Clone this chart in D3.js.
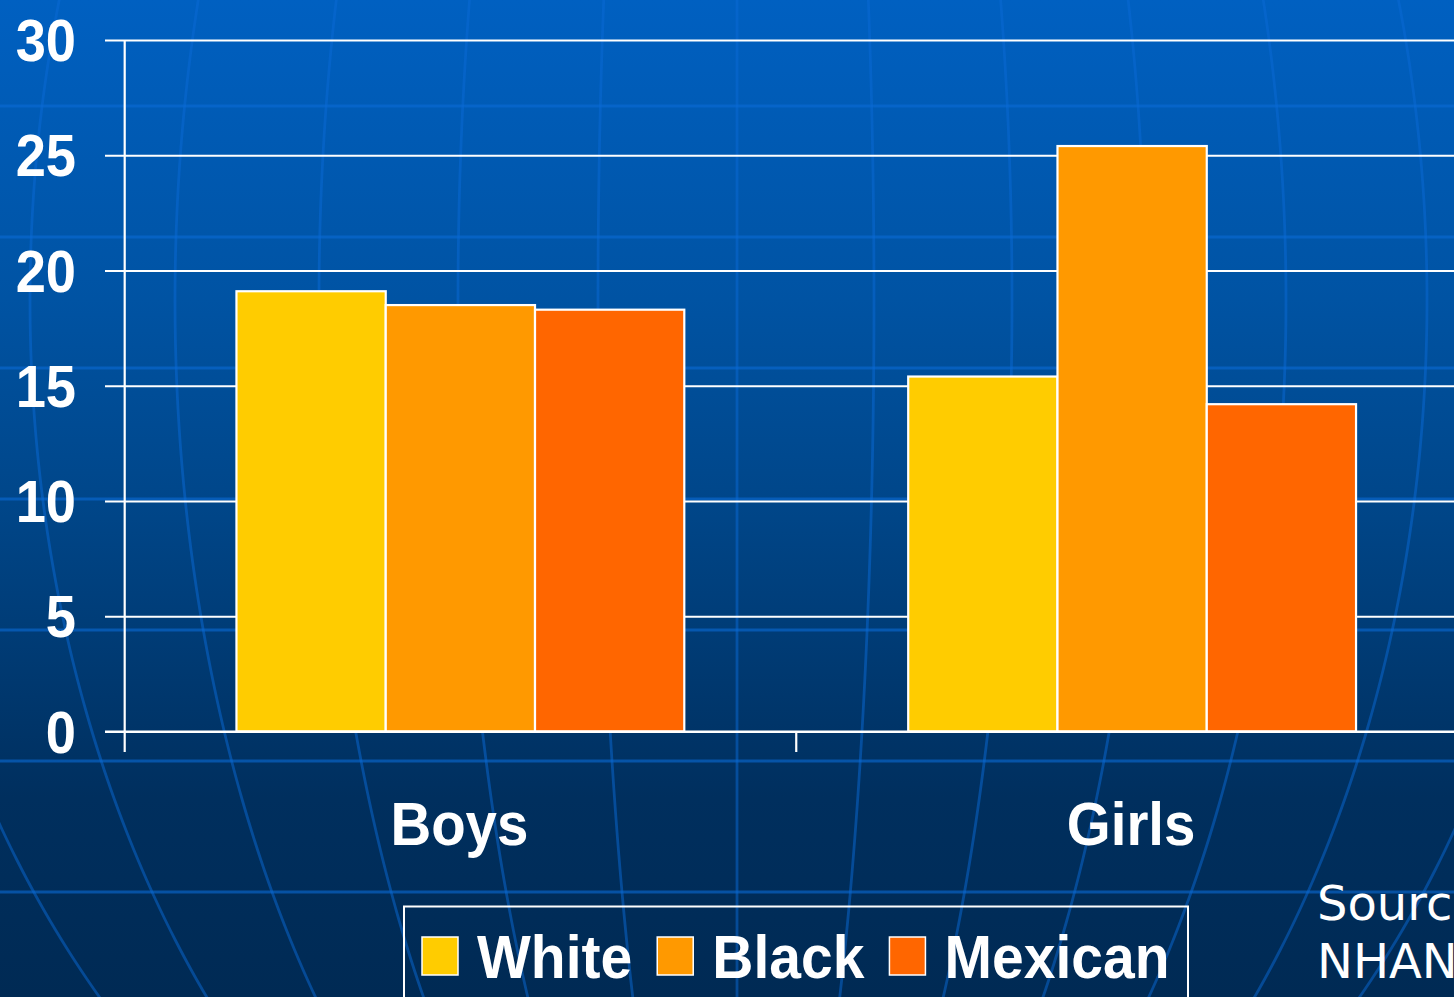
<!DOCTYPE html>
<html><head><meta charset="utf-8">
<script src="https://cdn.jsdelivr.net/npm/d3@7"></script>
<style>html,body{margin:0;padding:0;background:#002a55;overflow:hidden}</style>
</head><body><svg id="chart" width="1454" height="997"></svg>
<script>
// ---- data ----
const categories = ["Boys", "Girls"];
const seriesNames = ["White", "Black", "Mexican"];
const whiteValues = [19.1, 15.4];
const blackValues = [18.5, 25.4];
const mexicanValues = [18.3, 14.2];
const yTickValues = [0, 5, 10, 15, 20, 25, 30];
const seriesColors = ["#FFCC00", "#FF9900", "#FF6600"];
const sourceLines = ["Source:", "NHANES 1999\u20132002"];

// ---- decorative globe background ----
const latitudeYs = [106, 237, 368, 499, 630, 761, 892];
const meridianOffsets = [-990, -850, -707, -562, -418, -279, -139, 0, 137, 275, 408, 549, 690, 830];

const W = 1454, H = 997;
const svg = d3.select("#chart");
const defs = svg.append("defs");
const grad = defs.append("linearGradient").attr("id", "bg").attr("x1", 0).attr("y1", 0).attr("x2", 0).attr("y2", 1);
[[0, "#0060c1"], [0.3, "#0053a3"], [0.52, "#004587"], [0.8, "#002f5e"], [1, "#002a54"]]
  .forEach(([o, c]) => grad.append("stop").attr("offset", o).attr("stop-color", c));
svg.append("rect").attr("width", W).attr("height", H).attr("fill", "url(#bg)");

const bgG = svg.append("g");
bgG.selectAll("line.lat").data(latitudeYs).join("line")
  .attr("x1", 0).attr("x2", W).attr("y1", d => d).attr("y2", d => d)
  .attr("stroke", "#0a6ad6").attr("stroke-opacity", 0.6).attr("stroke-width", 3);
const gcx = 737, gcy = 300, gR = 1054;
const ys = d3.range(-60, 1060, 10);
bgG.selectAll("path.mer").data(meridianOffsets).join("path")
  .attr("fill", "none").attr("stroke", "#0a6ad6").attr("stroke-opacity", 0.5).attr("stroke-width", 2.8)
  .attr("d", off => d3.line()(ys.map(y => [gcx + off * Math.sqrt(1 - Math.pow((y - gcy) / gR, 2)), y])));

// ---- scales ----
const x0 = d3.scaleBand().domain(categories).range([124.5, 1468]).paddingInner(0).paddingOuter(0);
const x1 = d3.scaleBand().domain(seriesNames).range([0, x0.bandwidth()]).paddingInner(0).paddingOuter(0.75);
const y = d3.scaleLinear().domain([0, 30]).range([731.5, 40]);
const color = d3.scaleOrdinal().domain(seriesNames).range(seriesColors);

const table = categories.map((c, i) => ({
  cat: c,
  vals: [whiteValues[i], blackValues[i], mexicanValues[i]].map((v, j) => ({ s: seriesNames[j], v }))
}));

// gridlines + y axis
const yAxis = d3.axisLeft(y).tickValues(yTickValues).tickSize(-(W - 105)).tickSizeOuter(0).tickFormat("");
const yg = svg.append("g").attr("transform", "translate(105,0)").call(yAxis);
yg.select(".domain").remove();
yg.selectAll(".tick line").attr("stroke", "#fff").attr("stroke-width", 2.2);

svg.append("line").attr("x1", 124.7).attr("x2", 124.7).attr("y1", 40).attr("y2", 752)
  .attr("stroke", "#fff").attr("stroke-width", 2.2);

// y tick labels
svg.append("g").selectAll("text").data(yTickValues).join("text")
  .attr("transform", d => `translate(76,${y(d) + 21}) scale(0.92,1)`)
  .attr("text-anchor", "end")
  .attr("font-family", "Liberation Sans, Arial, sans-serif").attr("font-weight", "bold")
  .attr("font-size", 59).attr("fill", "#fff").text(d => d);

// bars
const groups = svg.append("g").selectAll("g").data(table).join("g")
  .attr("transform", d => `translate(${x0(d.cat)},0)`);
groups.selectAll("rect").data(d => d.vals).join("rect")
  .attr("x", d => x1(d.s)).attr("width", x1.bandwidth())
  .attr("y", d => y(d.v)).attr("height", d => y(0) - y(d.v))
  .attr("fill", d => color(d.s)).attr("stroke", "#fff").attr("stroke-width", 2.2);

// x axis
const xAxis = d3.axisBottom(x0).tickSize(0).tickFormat("");
const xg = svg.append("g").attr("transform", `translate(0,${y(0)})`).call(xAxis);
xg.select(".domain").remove();
svg.append("line").attr("x1", 105).attr("x2", W).attr("y1", y(0)).attr("y2", y(0)).attr("stroke", "#fff").attr("stroke-width", 2.2);
svg.append("line").attr("x1", x0("Girls")).attr("x2", x0("Girls")).attr("y1", y(0)).attr("y2", 752).attr("stroke", "#fff").attr("stroke-width", 2.2);

svg.append("g").selectAll("text").data(categories).join("text")
  .attr("transform", d => `translate(${x0(d) + x0.bandwidth() / 2 - 1},845) scale(0.91,1)`)
  .attr("text-anchor", "middle")
  .attr("font-family", "Liberation Sans, Arial, sans-serif").attr("font-weight", "bold")
  .attr("font-size", 62).attr("fill", "#fff").text(d => d);

// legend
const leg = svg.append("g");
leg.append("rect").attr("x", 404).attr("y", 906.5).attr("width", 784).attr("height", 140)
  .attr("fill", "none").attr("stroke", "#fff").attr("stroke-width", 2);
let lx = 422;
seriesNames.forEach((s, i) => {
  leg.append("rect").attr("x", lx).attr("y", 937).attr("width", 36).attr("height", 38)
    .attr("fill", color(s)).attr("stroke", "#fff").attr("stroke-width", 1.5);
  const t = leg.append("text")
    .attr("transform", `translate(${lx + 55},977.5) scale(0.92,1)`)
    .attr("font-family", "Liberation Sans, Arial, sans-serif").attr("font-weight", "bold")
    .attr("font-size", 62).attr("fill", "#fff").text(s);
  const w = t.node().getComputedTextLength() * 0.92;
  lx = lx + 55 + w + 25;
});

// source
svg.append("g").selectAll("text").data(sourceLines).join("text")
  .attr("x", 1317).attr("y", (d, i) => 920 + i * 57.5)
  .attr("font-family", "DejaVu Sans, Verdana, sans-serif")
  .attr("font-size", 48).attr("fill", "#fff").text(d => d);
</script>
</body></html>
